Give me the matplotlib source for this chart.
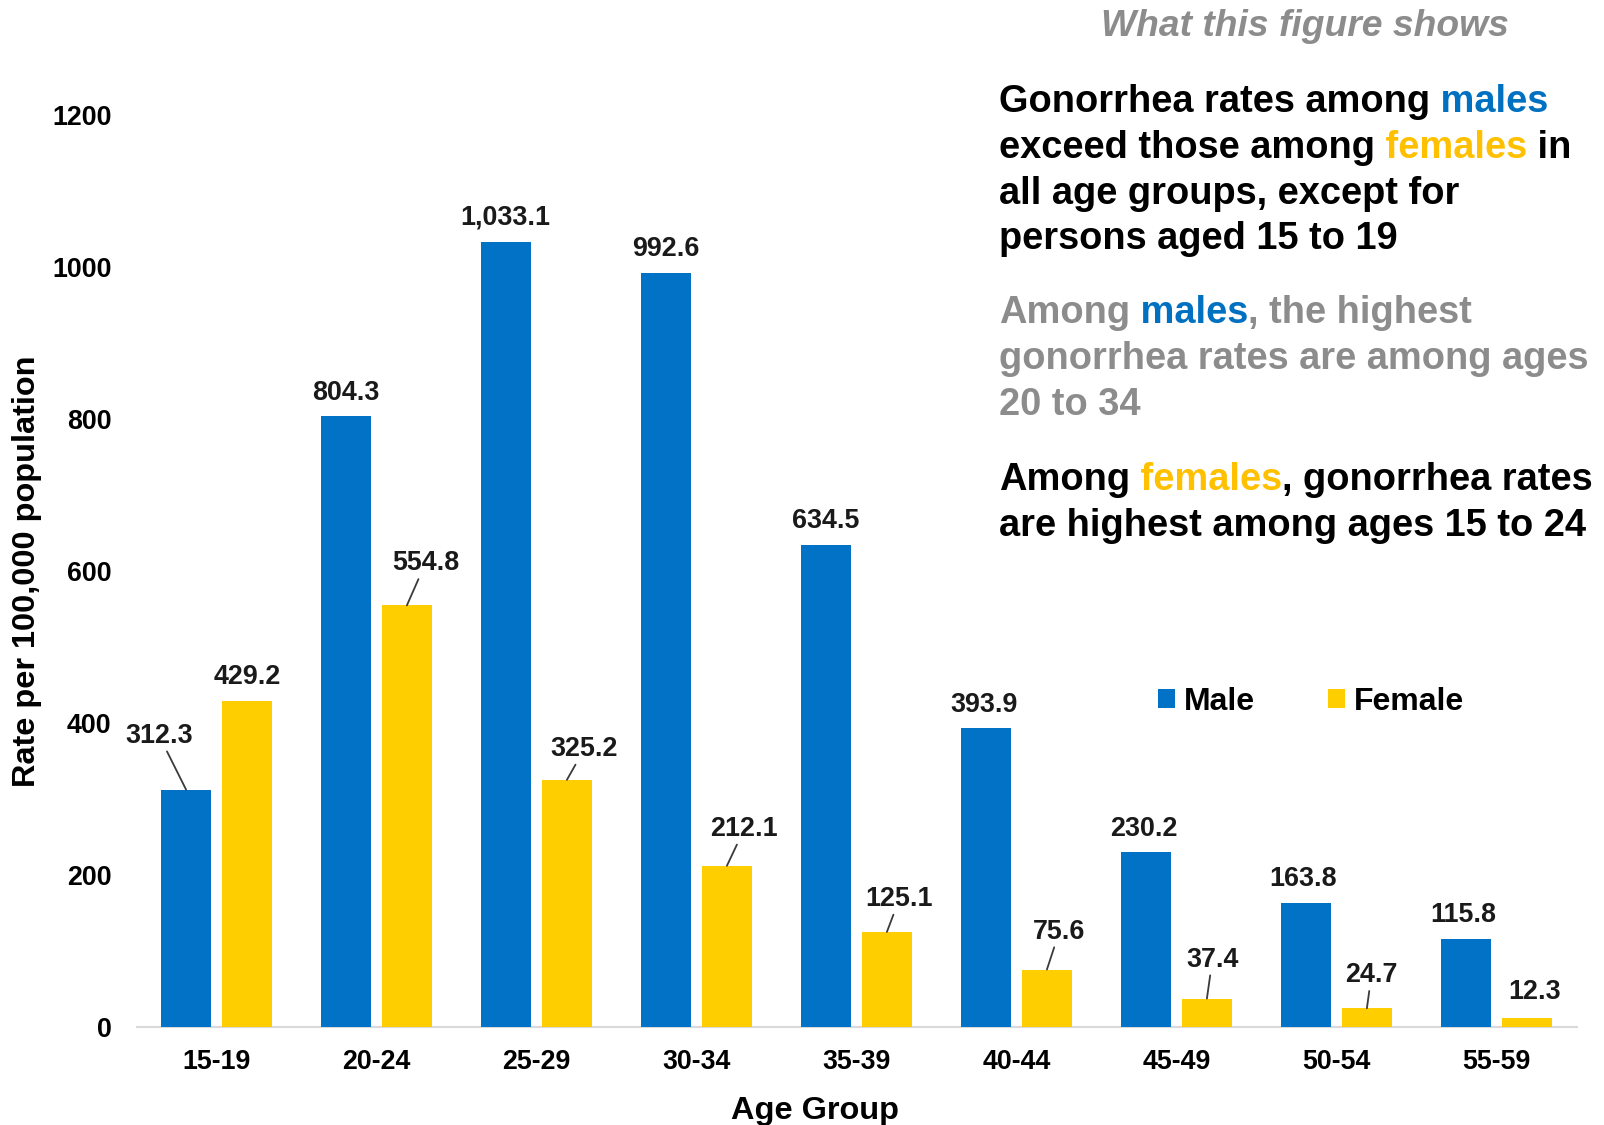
import matplotlib
matplotlib.use("Agg")
import matplotlib.pyplot as plt
import numpy as np

plt.rcParams['font.family'] = ['Liberation Sans', 'DejaVu Sans']
plt.rcParams['font.weight'] = 'bold'

# ---- data ----
age_groups = ["15-19", "20-24", "25-29", "30-34", "35-39",
              "40-44", "45-49", "50-54", "55-59"]
male_rates = [312.3, 804.3, 1033.1, 992.6, 634.5, 393.9, 230.2, 163.8, 115.8]
female_rates = [429.2, 554.8, 325.2, 212.1, 125.1, 75.6, 37.4, 24.7, 12.3]
y_ticks = [0, 200, 400, 600, 800, 1000, 1200]

# ---- style ----
BLUE = '#0172C6'
YELLOW = '#FFCE00'
BLUE_TXT = '#0070C0'
YELLOW_TXT = '#FFC000'
GREY = '#8C8C8C'
BLACK = '#000000'
LABEL_C = '#1A1A1A'

# value-label offsets from the top centre of each bar (pixels) and leader flags
male_label_offsets = [(-27, 54), (0, 23), (-1, 24), (0, 24), (0, 24),
                      (-2, 23), (-2, 23), (-3, 23.5), (-3, 24)]
male_leaders = [True, False, False, False, False, False, False, False, False]
female_label_offsets = [(0, 24), (18.5, 42), (17.5, 31), (17.5, 37), (12.5, 33),
                        (12.5, 38), (5.5, 39), (4.5, 33), (7.5, 26)]
female_leaders = [False, True, True, True, True, True, True, True, False]

W, H = 1604, 1125
fig = plt.figure(figsize=(W / 100, H / 100), dpi=100)


def fx(px):
    return px / W


def fy(py):
    return 1 - py / H


ax = fig.add_axes([136.5 / W, 98 / H, 1440 / W, 912 / H])

x = np.arange(len(age_groups))
bw = 0.31
off = 0.19
bars_m = ax.bar(x - off, male_rates, bw, color=BLUE, label='Male', zorder=3)
bars_f = ax.bar(x + off, female_rates, bw, color=YELLOW, label='Female', zorder=3)

ax.set_xlim(-0.5, len(age_groups) - 0.5)
ax.set_ylim(0, 1200)
ax.set_yticks(y_ticks)
ax.set_yticklabels([str(t) for t in y_ticks])
ax.set_xticks(x)
ax.set_xticklabels(age_groups)
ax.tick_params(axis='both', length=0, labelsize=19.3, colors=BLACK)
ax.tick_params(axis='y', pad=18)
ax.tick_params(axis='x', pad=16)
for s in ('top', 'right', 'left'):
    ax.spines[s].set_visible(False)
ax.spines['bottom'].set_color('#D9D9D9')
ax.spines['bottom'].set_linewidth(1.5)
ax.spines['bottom'].set_zorder(2)

ax.set_ylabel('Rate per 100,000 population', fontsize=23.4, fontweight='bold')
ax.yaxis.set_label_coords(-0.0656, 0.5)
ax.set_xlabel('Age Group', fontsize=23.4, fontweight='bold')
ax.xaxis.set_label_coords(0.471, -0.0757)


def value_labels(xs, vals, offsets, leaders):
    for xi, v, (dx, dy), lead in zip(xs, vals, offsets, leaders):
        kw = {}
        if lead:
            kw['arrowprops'] = dict(arrowstyle='-', color='#3A3A3A', lw=1.3,
                                    shrinkA=0, shrinkB=0)
        ax.annotate(f"{v:,.1f}", xy=(xi, v), xytext=(dx, dy),
                    textcoords='offset pixels', ha='center', va='center',
                    fontsize=19.4, fontweight='bold', color=LABEL_C,
                    annotation_clip=False, zorder=4, **kw)


value_labels(x - off, male_rates, male_label_offsets, male_leaders)
value_labels(x + off, female_rates, female_label_offsets, female_leaders)

ax.legend(handles=[bars_m, bars_f], loc='center left',
          bbox_to_anchor=(fx(1158), fy(702)), bbox_transform=fig.transFigure,
          ncol=2, frameon=False, fontsize=23, handlelength=0.53,
          handleheight=0.53, handletextpad=0.28, columnspacing=2.3,
          borderpad=0, borderaxespad=0)

# ---- explanatory text panel ----
fig.text(fx(1305), fy(26), 'What this figure shows', ha='center', va='center',
         fontsize=26.8, fontweight='bold', style='italic', color=GREY)


def rich_line(x_px, base_px, parts, size=27.4):
    prev = None
    for text, color in parts:
        if prev is None:
            prev = fig.text(fx(x_px), fy(base_px), text, color=color,
                            fontsize=size, fontweight='bold',
                            ha='left', va='baseline')
        else:
            prev = ax.annotate(text, xy=(1, 0), xycoords=prev, color=color,
                               fontsize=size, fontweight='bold',
                               ha='left', va='bottom', annotation_clip=False)


TX = 999
rich_line(TX, 112, [("Gonorrhea rates among", BLACK), (" males", BLUE_TXT)])
rich_line(TX, 158, [("exceed those among", BLACK), (" females", YELLOW_TXT), (" in", BLACK)])
rich_line(TX, 204, [("all age groups, except for", BLACK)])
rich_line(TX, 249, [("persons aged 15 to 19", BLACK)])

rich_line(TX, 323, [("Among", GREY), (" males", BLUE_TXT), (", the highest", GREY)])
rich_line(TX, 369, [("gonorrhea rates are among ages", GREY)])
rich_line(TX, 415, [("20 to 34", GREY)])

rich_line(TX, 490, [("Among", BLACK), (" females", YELLOW_TXT), (", gonorrhea rates", BLACK)])
rich_line(TX, 536, [("are highest among ages 15 to 24", BLACK)])

fig.savefig('out.png', dpi=100)
